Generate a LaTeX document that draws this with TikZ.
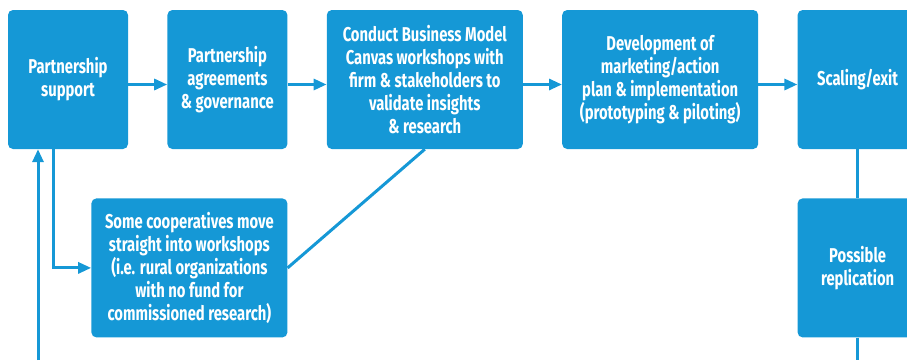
\documentclass[tikz,border=0pt]{standalone}
\usepackage{fontspec}
\setmainfont{Fira Sans}[FakeStretch=0.74]
\usetikzlibrary{positioning,arrows.meta}
\definecolor{boxblue}{RGB}{21,152,214}

\begin{document}
\begin{tikzpicture}[
  x=1pt, y=1pt,
  font=\bfseries\fontsize{20}{23}\selectfont,
  box/.style={fill=boxblue, text=white, rounded corners=5pt, minimum width=120pt, minimum height=139pt, align=center, inner sep=2pt},
  wide/.style={box, minimum width=196pt},
  link/.style={draw=boxblue, line width=3pt},
  flow/.style={link, -{Triangle[length=13pt,width=11pt]}},
  node distance=39pt
]
\useasboundingbox (0,0) rectangle (907,-360);
\clip (0,0) rectangle (907,-360);

% top row
\node[box] (support) at (68,-79.5) {Partnership\\support};
\node[box, right=of support] (agree) {Partnership\\agreements\\\& governance};
\node[wide, right=of agree] (canvas) {Conduct Business Model\\Canvas workshops with\\firm \& stakeholders to\\validate insights\\\& research};
\node[wide, right=of canvas] (plan) {Development of\\marketing/action\\plan \& implementation\\(prototyping \& piloting)};
\node[box, right=of plan] (scale) {Scaling/exit};

% second row
\node[wide, below left=49pt and 0pt of agree.south east] (coop) {Some cooperatives move\\straight into workshops\\(i.e. rural organizations\\with no fund for\\commissioned research)};
\node[box, below=49pt of scale] (replic) {Possible\\replication};

% bottom ends
\coordinate (loopin) at ([xshift=-30pt]support.south |- 0,-360);
\coordinate (loopout) at (replic.south |- 0,-360);

% connectors
\draw[flow] ([yshift=-5pt]support.east) -- ([yshift=-5pt]agree.west);
\draw[flow] ([yshift=-5pt]agree.east) -- ([yshift=-5pt]canvas.west);
\draw[flow] ([yshift=-5pt]canvas.east) -- ([yshift=-5pt]plan.west);
\draw[flow] ([yshift=-5pt]plan.east) -- ([yshift=-5pt]scale.west);
\draw[flow] ([xshift=-15pt]support.south) |- (coop.west);
\draw[link] (canvas.south) -- (coop.east);
\draw[link] (scale) -- (replic);
\draw[link] (replic) -- (loopout);
\draw[flow] (loopin) -- (loopin |- support.south);

\end{tikzpicture}
\end{document}
